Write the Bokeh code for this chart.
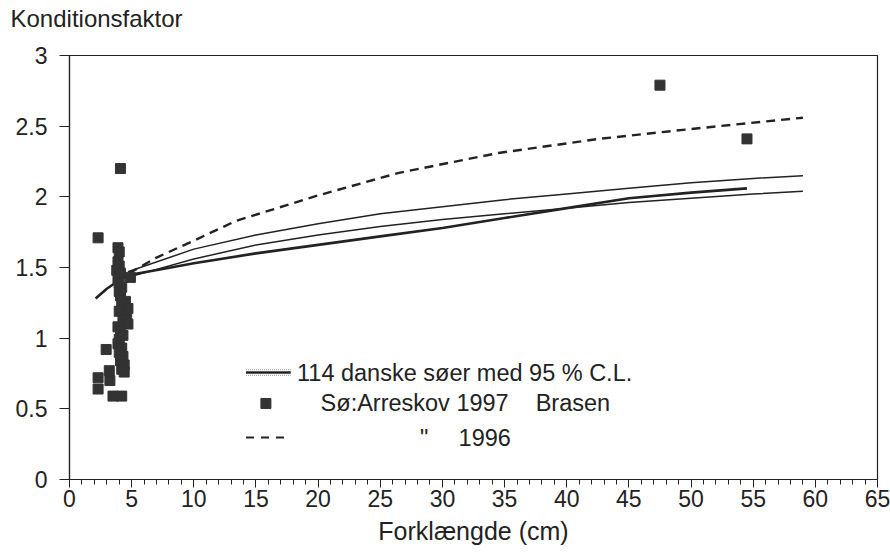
from bokeh.plotting import figure
from bokeh.models import FixedTicker, CustomJSTickFormatter, Title
from bokeh.core.properties import value
from bokeh.embed import file_html
from bokeh.resources import INLINE

# ---------------- data ----------------
# Arreskov 1997, bream: observed condition factor vs fork length
obs_len = [4.1, 2.3, 3.9, 4.0, 4.9, 2.95, 2.3, 2.3, 3.2, 3.25, 3.5, 4.2,
           3.9, 4.0, 3.8, 4.1, 3.9, 4.0, 4.2, 4.0, 4.1, 4.5, 4.2, 4.7, 4.0,
           4.6, 4.3, 4.7, 3.9, 4.1, 4.3, 4.0, 3.9, 4.2, 4.0, 4.3, 4.1, 4.4,
           4.2, 4.4, 47.5, 54.5]
obs_k = [2.20, 1.71, 1.64, 1.61, 1.43, 0.92, 0.72, 0.64, 0.77, 0.70, 0.59, 0.59,
         1.54, 1.51, 1.48, 1.46, 1.42, 1.39, 1.36, 1.33, 1.30, 1.26, 1.24, 1.21, 1.19,
         1.16, 1.13, 1.10, 1.08, 1.05, 1.02, 0.99, 0.96, 0.93, 0.90, 0.87, 0.84, 0.81,
         0.78, 0.76, 2.79, 2.41]

# 114 Danish lakes: central curve (thick) and 95 % confidence limits (thin)
mean_len = [2.1, 3.0, 4.0, 5.0, 7.5, 10, 15, 20, 25, 30, 35, 40, 45, 50, 54.5]
mean_k = [1.28, 1.35, 1.41, 1.45, 1.49, 1.53, 1.60, 1.66, 1.72, 1.78, 1.85, 1.92, 1.99, 2.03, 2.06]

cl_upper_len = [4.7, 10, 15, 20, 25, 30, 35, 40, 45, 50, 55, 59]
cl_upper_k = [1.47, 1.63, 1.73, 1.81, 1.88, 1.93, 1.98, 2.02, 2.06, 2.10, 2.13, 2.15]

cl_lower_len = [4.7, 10, 15, 20, 25, 30, 35, 40, 45, 50, 55, 59]
cl_lower_k = [1.43, 1.56, 1.66, 1.73, 1.79, 1.84, 1.88, 1.92, 1.96, 1.99, 2.02, 2.04]

# Arreskov 1996 curve (dashed)
y1996_len = [4.8, 7, 10, 13.4, 20, 26.5, 34.5, 42.6, 50, 59]
y1996_k = [1.46, 1.57, 1.69, 1.83, 2.01, 2.17, 2.31, 2.41, 2.48, 2.56]

x_ticks = list(range(0, 66, 5))
x_minor = list(range(0, 66, 1))
y_ticks = [0, 0.5, 1, 1.5, 2, 2.5, 3]

legend_texts = ["114 danske søer med 95 % C.L.", "Sø:Arreskov 1997", "Brasen", "\"", "1996"]

# ---------------- style ----------------
FONT = "Liberation Sans"
INK = "#222222"

p = figure(width=890, height=552, x_range=(0, 65), y_range=(0, 3),
           output_backend="svg", toolbar_location=None,
           min_border_left=69, min_border_right=13, min_border_top=55, min_border_bottom=73)
p.background_fill_color = "white"
p.border_fill_color = "white"
p.outline_line_color = INK
p.outline_line_width = 1.2
p.xgrid.visible = False
p.ygrid.visible = False

# y-axis title sits above the plot, left-aligned at the page edge
p.title.text = "Konditionsfaktor"
p.title.align = "left"
p.title.offset = -59
p.title.standoff = 0
p.title.text_font = FONT
p.title.text_font_size = "24px"
p.title.text_font_style = "normal"
p.title.text_color = INK
# blank spacer between the title and the frame
p.add_layout(Title(text=" ", text_font_size="10px", standoff=11), "above")

# axes
p.xaxis.ticker = FixedTicker(ticks=x_ticks, minor_ticks=x_minor)
p.yaxis.ticker = FixedTicker(ticks=y_ticks, minor_ticks=[])
p.yaxis.formatter = CustomJSTickFormatter(code="return String(tick);")
for ax in (p.xaxis[0], p.yaxis[0]):
    ax.axis_line_color = INK
    ax.axis_line_width = 1.2
    ax.major_tick_line_color = INK
    ax.minor_tick_line_color = INK
    ax.major_tick_in = 0
    ax.minor_tick_in = 0
    ax.major_label_text_font = FONT
    ax.major_label_text_font_size = "23px"
    ax.major_label_text_color = INK
    ax.axis_label_text_font = FONT
    ax.axis_label_text_font_size = "25px"
    ax.axis_label_text_font_style = "normal"
    ax.axis_label_text_color = INK
p.xaxis.major_tick_out = 8
p.xaxis.minor_tick_out = 5
p.xaxis.major_label_standoff = 2
p.xaxis.axis_label = "Forklængde (cm)"
p.xaxis.axis_label_standoff = 7
p.yaxis.major_tick_out = 10
p.yaxis.minor_tick_out = 0
p.yaxis.major_label_standoff = 12

# curves
p.line(cl_upper_len, cl_upper_k, line_color=INK, line_width=1.5)
p.line(cl_lower_len, cl_lower_k, line_color=INK, line_width=1.5)
p.line(mean_len, mean_k, line_color=INK, line_width=2.6)
p.line(y1996_len, y1996_k, line_color=INK, line_width=2.4, line_dash="9 6")

# observations
p.scatter(obs_len, obs_k, marker="square", size=10, fill_color="#333333", line_color="#333333")

# ---------------- manual legend (tab-aligned as in the reference) ----------------
r1, r2, r3 = 0.757, 0.538, 0.297
p.line([14.2, 17.8], [r1, r1], line_color=INK, line_width=2.6)
p.line([14.2, 17.8], [r1 + 0.02, r1 + 0.02], line_color="#999999", line_width=1, line_dash="1 1")
p.line([14.2, 17.8], [r1 - 0.02, r1 - 0.02], line_color="#999999", line_width=1, line_dash="1 1")
p.scatter([15.8], [r2], marker="square", size=10, fill_color="#333333", line_color="#333333")
p.line([14.2, 17.3], [r3, r3], line_color=INK, line_width=2.2, line_dash="8 7")

p.text(x=[18.3, 20.2, 37.5, 28.2, 31.3], y=[r1, r2, r2, r3, r3], text=legend_texts,
       text_font=value(FONT), text_font_size="23.5px", text_color=INK,
       text_baseline="middle", text_align="left")

open("out.html", "w").write(file_html(p, INLINE))
